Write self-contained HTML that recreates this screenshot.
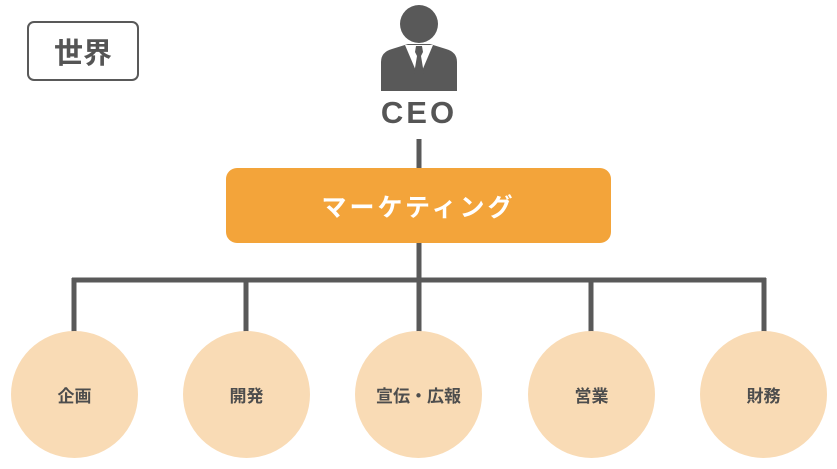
<!DOCTYPE html>
<html><head><meta charset="utf-8"><style>
body{margin:0;width:837px;height:469px;background:#fff;position:relative;overflow:hidden;font-family:"Liberation Sans","Noto Sans CJK JP",sans-serif;}
.c{position:absolute;width:127px;height:127px;border-radius:50%;background:#F9DBB5;top:331px;display:flex;align-items:center;justify-content:center;font-size:17px;font-weight:bold;color:#4d4d4d;}
</style></head><body>
<svg width="837" height="469" style="position:absolute;left:0;top:0">
<g fill="#595959">
<circle cx="419" cy="24" r="19"/>
<path d="M381 91 L381 62 Q381 52 392 49 L408 44 L430 44 L446 49 Q457 52 457 62 L457 91 Z"/>
</g>
<path d="M405 45 L419 78 L433 45 Z" fill="#fff"/>
<path d="M416 46 L422 46 L423 52 L421 56 L424 74 L419 80 L414 74 L417 56 L415 52 Z" fill="#595959"/>
<g stroke="#595959" stroke-width="5" fill="none">
<line x1="419" y1="139" x2="419" y2="170"/>
<line x1="419" y1="240" x2="419" y2="333"/>
<line x1="72" y1="280" x2="766" y2="280"/>
<line x1="74" y1="278" x2="74" y2="333"/>
<line x1="246" y1="278" x2="246" y2="333"/>
<line x1="591" y1="278" x2="591" y2="333"/>
<line x1="764" y1="278" x2="764" y2="333"/>
</g>
</svg>
<div style="position:absolute;left:27px;top:21px;width:108px;height:56px;border:2.5px solid #595959;border-radius:7px;display:flex;align-items:center;justify-content:center;font-size:29px;font-weight:bold;color:#555">世界</div>
<div style="position:absolute;left:369px;top:95px;width:100px;text-align:center;font-size:31px;font-weight:bold;color:#555;letter-spacing:3px">CEO</div>
<div style="position:absolute;left:226px;top:168px;width:385px;height:75px;border-radius:11px;background:#F3A43A;display:flex;align-items:center;justify-content:center;font-size:25px;font-weight:bold;color:#fff;letter-spacing:3px">マーケティング</div>
<div class="c" style="left:11px">企画</div>
<div class="c" style="left:183px">開発</div>
<div class="c" style="left:355px">宣伝・広報</div>
<div class="c" style="left:528px">営業</div>
<div class="c" style="left:700px">財務</div>
</body></html>
